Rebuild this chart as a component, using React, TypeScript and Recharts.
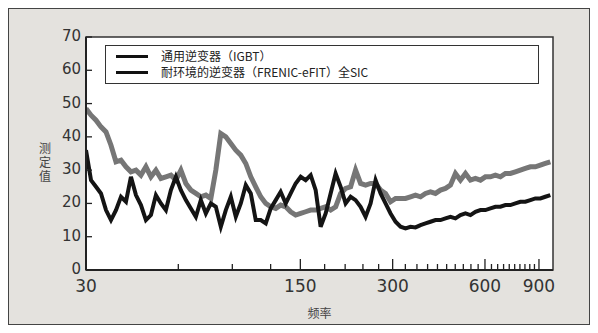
import React from "react";
import {
  LineChart,
  Line,
  XAxis,
  YAxis,
  CartesianGrid,
  ReferenceArea,
  Label,
} from "recharts";

// frequencies (log axis), read from pixel positions
const freqs = [
  30.0, 31.15, 32.34, 33.57, 34.86, 36.19, 37.57, 39.01, 40.5, 42.04, 43.65,
  45.32, 47.05, 48.85, 50.71, 52.65, 54.66, 56.75, 58.92, 61.17, 63.5, 65.93,
  68.45, 71.06, 73.78, 76.6, 79.52, 82.56, 85.71, 88.99, 92.39, 95.91, 99.58,
  103.4, 107.3, 111.4, 115.7, 120.1, 124.7, 129.4, 134.4, 139.5, 144.8, 150.4,
  156.1, 162.1, 168.3, 174.7, 181.4, 188.3, 195.5, 203.0, 210.7, 218.8, 227.1,
  235.8, 244.8, 254.2, 263.9, 274.0, 284.4, 295.3, 306.6, 318.3, 330.4, 343.0,
  356.1, 369.8, 383.9, 398.5, 413.8, 429.6, 446.0, 463.0, 480.7, 499.1, 518.2,
  538.0, 558.5, 579.9, 602.0, 625.0, 648.9, 673.7, 699.4, 726.1, 753.9, 782.7,
  812.6, 843.6, 875.9, 909.3, 944.1, 980.1,
];

// 通用逆变器（IGBT） - gray trace
const igbt = [
  48.5, 46.5, 45, 43, 41.5, 37.5, 32.5, 33, 31, 29.5, 30, 28.5, 31, 28, 30,
  27.5, 28, 28.5, 27, 30, 26, 24, 23, 22, 22.5, 21.5, 30, 41, 40, 38, 36, 34.5,
  32, 28, 25, 22, 20, 19, 18.5, 19.5, 19, 17.5, 16.5, 17, 17.5, 18, 18, 18.5,
  19, 18, 19, 23, 24.5, 25, 30, 26, 25.5, 26, 26, 24, 23, 20.5, 21.5, 21.5,
  21.5, 22, 22.5, 22, 23, 23.5, 23, 24, 24.5, 25.5, 29, 27, 29, 27, 27.5, 27,
  28, 28, 28.5, 28, 29, 29, 29.5, 30, 30.5, 31, 31, 31.5, 32, 32.5,
];

// 耐环境的逆变器（FRENIC-eFIT）全SIC - black trace
const sic = [
  36, 27, 25, 23, 18, 15, 18, 22, 20.5, 28, 22.5, 19.5, 15, 16.5, 22.5, 20, 18,
  24, 28, 24, 21, 18.5, 16, 21, 17, 20, 19, 13, 18, 22, 16, 20, 25.5, 23, 15,
  15, 14, 18.5, 21, 23.5, 20, 23, 26, 28, 27, 28.5, 24, 13, 17, 23, 29, 25, 20,
  22, 21, 19, 16, 20, 27, 23, 20, 17, 14.5, 13, 12.5, 13, 12.8, 13.5, 14, 14.5,
  15, 15, 15.5, 16, 15.5, 16.5, 17, 16.5, 17.5, 18, 18, 18.5, 19, 19, 19.5,
  19.5, 20, 20.5, 20.5, 21, 21.5, 21.5, 22, 22.5,
];

const xTicks = Array.from({ length: 30 }, (_, i) => 30 * (i + 1));
const xLabels = [30, 150, 300, 600, 900];
const yTicks = [0, 10, 20, 30, 40, 50, 60, 70];
const legendNames = ["通用逆变器（IGBT）", "耐环境的逆变器（FRENIC-eFIT）全SIC"];

const data = freqs.map((f, i) => ({ f, igbt: igbt[i], sic: sic[i] }));

const tickFont = "'DejaVu Sans', sans-serif";
const cjkFont = "'Noto Sans CJK SC', sans-serif";

const XTick = (props: any) => {
  const { x, y, payload } = props;
  const major = xLabels.includes(payload.value);
  return (
    <g>
      <line x1={x} y1={y} x2={x} y2={y - (major ? 11 : 6)} stroke="#222" strokeWidth={1.3} />
      {major && (
        <text x={x} y={y + 22} textAnchor="middle" fontSize={17} fill="#333" fontFamily={tickFont}>
          {payload.value}
        </text>
      )}
    </g>
  );
};

const YTick = (props: any) => {
  const { x, y, payload } = props;
  return (
    <g>
      <line x1={x} y1={y} x2={x + 6} y2={y} stroke="#222" strokeWidth={1.3} />
      <text x={x - 5} y={y + 4} textAnchor="end" fontSize={15} fill="#333" fontFamily={tickFont}>
        {payload.value}
      </text>
    </g>
  );
};

export default function App() {
  return (
    <div
      style={{
        width: 580,
        height: 315,
        border: "1px solid #444",
        background: "#e4e2de",
        position: "relative",
      }}
    >
      <LineChart
        width={580}
        height={315}
        data={data}
        margin={{ top: 28, right: 36, left: 37, bottom: 24 }}
      >
        <CartesianGrid fill="#fff" horizontal={false} vertical={false} />
        <ReferenceArea x1={30} x2={1000} y1={0} y2={70} fill="none" stroke="#333" strokeWidth={1.5} />
        <XAxis
          dataKey="f"
          type="number"
          scale="log"
          domain={[30, 1000]}
          allowDataOverflow
          ticks={xTicks}
          interval={0}
          tickSize={0}
          tickMargin={0}
          tick={<XTick />}
          axisLine={{ stroke: "#222", strokeWidth: 2 }}
          height={30}
        >
          <Label value="频率" position="insideBottom" offset={-18} fontSize={12} fill="#444" fontFamily={cjkFont} />
        </XAxis>
        <YAxis
          type="number"
          domain={[0, 70]}
          ticks={yTicks}
          interval={0}
          tickSize={0}
          tickMargin={0}
          tick={<YTick />}
          axisLine={{ stroke: "#222", strokeWidth: 2 }}
          width={40}
        />
        <Line dataKey="igbt" stroke="#767676" strokeWidth={5} dot={false} type="linear" isAnimationActive={false} />
        <Line dataKey="sic" stroke="#141414" strokeWidth={4} dot={false} type="linear" isAnimationActive={false} />
      </LineChart>
      <div
        style={{
          position: "absolute",
          left: 96,
          top: 36,
          width: 434,
          height: 39,
          border: "1.5px solid #333",
          background: "#fff",
          boxSizing: "border-box",
          padding: "2px 0 0 10px",
          fontFamily: cjkFont,
          fontSize: 12,
          color: "#222",
          lineHeight: "16px",
        }}
      >
        {legendNames.map((t) => (
          <div key={t} style={{ display: "flex", alignItems: "center", height: 16 }}>
            <span style={{ display: "inline-block", width: 32, height: 3, background: "#111", marginRight: 13 }} />
            {t}
          </div>
        ))}
      </div>
      <div
        style={{
          position: "absolute",
          left: 30,
          top: 132,
          width: 14,
          fontSize: 12,
          lineHeight: "14px",
          color: "#444",
          fontFamily: cjkFont,
        }}
      >
        测定值
      </div>
    </div>
  );
}
